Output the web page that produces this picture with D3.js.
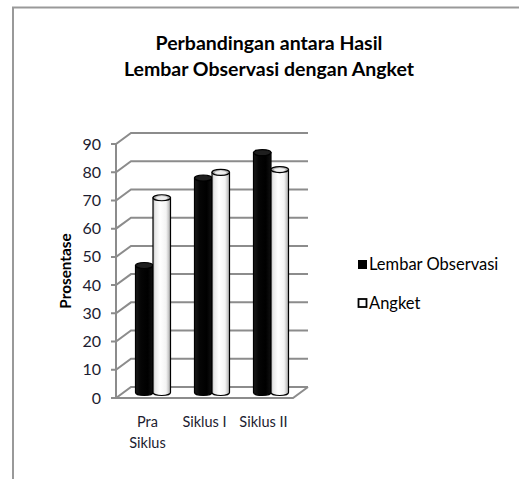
<!DOCTYPE html>
<html>
<head>
<meta charset="utf-8">
<script src="https://cdn.jsdelivr.net/npm/d3@7"></script>
<style>
html,body{margin:0;padding:0;background:#fff;}
svg{display:block;}
text{font-family:Lato,"Open Sans",sans-serif;}
</style>
</head>
<body>
<svg id="chart" width="519" height="479"></svg>
<script>
// ---- data ----
const categories = ["Pra Siklus", "Siklus I", "Siklus II"];
const categoryLines = [["Pra", "Siklus"], ["Siklus I"], ["Siklus II"]];
const seriesNames = ["Lembar Observasi", "Angket"];
const lembarObservasi = [45, 76, 85];
const angket = [69, 78, 79];
const yTicks = [0, 10, 20, 30, 40, 50, 60, 70, 80, 90];
const titleLines = ["Perbandingan antara Hasil", "Lembar Observasi dengan Angket"];
const yAxisTitle = "Prosentase";

const svg = d3.select("#chart");

// frame (top + left border only)
svg.append("path").attr("d", "M13,479 L13,7.5 L519,7.5")
  .attr("fill", "none").attr("stroke", "#999").attr("stroke-width", 2);

// geometry
const fx0 = 116, fx1 = 293;          // front plane x range
const depthX = 15, depthY = -11;     // 3D depth offset
const y = d3.scaleLinear().domain([0, 90]).range([398, 144]);
const x = d3.scaleBand().domain(categories).range([fx0, fx1]).paddingInner(0).paddingOuter(0);
const series = [lembarObservasi, angket];
const barW = 17.5;

const defs = svg.append("defs");
function grad(id, stops) {
  const g = defs.append("linearGradient").attr("id", id).attr("x1", "0").attr("x2", "1").attr("y1", "0").attr("y2", "0");
  stops.forEach(s => g.append("stop").attr("offset", s[0]).attr("stop-color", s[1]));
}
grad("gBlack", [[0, "#1a1a1a"], [0.3, "#050505"], [0.7, "#000"], [1, "#111"]]);
grad("gWhite", [[0, "#b8b8b8"], [0.12, "#e8e8e8"], [0.4, "#ffffff"], [0.75, "#f4f4f4"], [1, "#a8a8a8"]]);
grad("gWhiteTop", [[0, "#9a9a9a"], [0.5, "#d8d8d8"], [1, "#a0a0a0"]]);

const grid = svg.append("g").attr("stroke", "#8c8c8c").attr("stroke-width", 2).attr("fill", "none");
// floor
grid.append("path")
  .attr("d", `M${fx0},${y(0)} L${fx1},${y(0)} L${fx1 + depthX},${y(0) + depthY}`);
// gridlines: tick, diagonal, back wall line
yTicks.forEach(t => {
  const yy = y(t);
  grid.append("path")
    .attr("d", `M${fx0 - 5},${yy} L${fx0},${yy} L${fx0 + depthX},${yy + depthY} L${fx1 + depthX},${yy + depthY}`);
});
// front vertical axis
grid.append("line").attr("x1", fx0).attr("x2", fx0).attr("y1", y(0)).attr("y2", y(90));

// tick labels
svg.append("g").selectAll("text").data(yTicks).join("text")
  .attr("x", 101).attr("y", d => y(d) + 5.5)
  .attr("text-anchor", "end").attr("font-size", 16).attr("fill", "#1c1c30")
  .text(d => d);

// bars as cylinders (at mid depth)
const ry = 3;
const barsG = svg.append("g");
categories.forEach((c, ci) => {
  const cx = x(c) + x.bandwidth() / 2 + depthX / 2;
  series.forEach((s, si) => {
    const v = s[ci];
    const left = si === 0 ? cx - barW : cx;
    const mid = left + barW / 2;
    const yTop = y(v) + depthY / 2;
    const yBot = y(0) + depthY / 2;
    const g = barsG.append("g");
    const fill = si === 0 ? "url(#gBlack)" : "url(#gWhite)";
    g.append("path")
      .attr("d", `M${left},${yTop} L${left},${yBot} A${barW / 2},${ry} 0 0 0 ${left + barW},${yBot} L${left + barW},${yTop} Z`)
      .attr("fill", fill).attr("stroke", "#000").attr("stroke-width", 1.2);
    g.append("ellipse")
      .attr("cx", mid).attr("cy", yTop).attr("rx", barW / 2).attr("ry", ry)
      .attr("fill", si === 0 ? "#1e1e1e" : "url(#gWhiteTop)")
      .attr("stroke", "#000").attr("stroke-width", 1.2);
    if (si === 1) {
      g.append("ellipse")
        .attr("cx", mid).attr("cy", yTop + 0.3).attr("rx", barW / 2 - 3).attr("ry", ry - 1.3)
        .attr("fill", "#eee").attr("stroke", "none");
    }
  });
});

// category labels
const catG = svg.append("g");
categories.forEach((c, ci) => {
  const cx = x(c) + x.bandwidth() / 2;
  const t = catG.append("text").attr("text-anchor", "middle")
    .attr("font-size", 14.5).attr("fill", "#1c1c30");
  categoryLines[ci].forEach((ln, li) => {
    t.append("tspan").attr("x", cx + (ci === 0 ? 2 : 0)).attr("y", 426.5 + li * 21).text(ln);
  });
});

// y axis title
svg.append("text")
  .attr("transform", "translate(71,271) rotate(-90)")
  .attr("text-anchor", "middle").attr("font-size", 15.3).attr("font-weight", "bold")
  .attr("fill", "#000").text(yAxisTitle);

// title
svg.append("g").selectAll("text").data(titleLines).join("text")
  .attr("x", 269).attr("y", (d, i) => 50 + i * 26)
  .attr("text-anchor", "middle").attr("font-size", 19.5).attr("font-weight", "bold")
  .attr("fill", "#000").text(d => d);

// legend
const leg = svg.append("g");
seriesNames.forEach((n, i) => {
  const ly = 264.5 + i * 38.5;
  leg.append("rect").attr("x", 358.5).attr("y", ly - 4).attr("width", 8).attr("height", 8)
    .attr("fill", i === 0 ? "#000" : "#fff").attr("stroke", "#000").attr("stroke-width", i === 0 ? 1 : 1.8);
  leg.append("text").attr("x", 369).attr("y", ly + 5.5)
    .attr("font-size", 16.5).attr("fill", "#000").text(n);
});
</script>
</body>
</html>
